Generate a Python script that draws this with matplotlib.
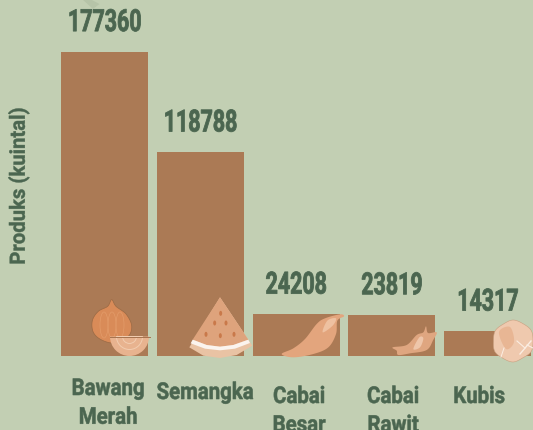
import matplotlib
matplotlib.use('Agg')
import matplotlib.pyplot as plt
import numpy as np
from matplotlib.patches import Ellipse, Polygon, Wedge
from matplotlib.patheffects import AbstractPathEffect
from matplotlib.transforms import Affine2D

plt.rcParams['font.family'] = ['Roboto', 'DejaVu Sans']

categories = ['Bawang\nMerah', 'Semangka', 'Cabai\nBesar', 'Cabai\nRawit', 'Kubis']
values = [177360, 118788, 24208, 23819, 14317]

BG = '#c2cfb3'
BAR = '#ab7a55'
TEXT = '#4b6650'

W, H = 533, 431


class Squeeze(AbstractPathEffect):
    # narrows a text line around its own centre, the original font is condensed
    def __init__(self, sx, stroke=0.5):
        super().__init__()
        self.sx = sx
        self.stroke = stroke

    def draw_path(self, renderer, gc, tpath, affine, rgbFace=None):
        ext = tpath.get_extents()
        cx = (ext.x0 + ext.x1) / 2
        squeeze = Affine2D().translate(-cx, 0).scale(self.sx, 1).translate(cx, 0)
        gc0 = renderer.new_gc()
        gc0.copy_properties(gc)
        gc0.set_linewidth(self.stroke)
        gc0.set_foreground(rgbFace)
        renderer.draw_path(gc0, tpath, squeeze + affine, rgbFace)
        gc0.restore()


def smooth(pts, n=12):
    # closed Catmull-Rom through the outline points
    p = np.array(pts, dtype=float)
    out = []
    for i in range(len(p)):
        p0, p1, p2, p3 = p[i - 1], p[i], p[(i + 1) % len(p)], p[(i + 2) % len(p)]
        for t in np.linspace(0, 1, n, endpoint=False):
            out.append(0.5 * (2 * p1 + (p2 - p0) * t + (2 * p0 - 5 * p1 + 4 * p2 - p3) * t ** 2
                              + (3 * p1 - p0 - 3 * p2 + p3) * t ** 3))
    return out


fig = plt.figure(figsize=(W / 100, H / 100), dpi=100, facecolor=BG)

# bars live in a full-figure axes, limits chosen so the baseline lands near y=356.5px
ax = fig.add_axes([0, 0, 1, 1])
per_px = 177360 / 304
base = 356.6
ax.set_xlim(-104.5 / 95.8, (W - 104.5) / 95.8)
ax.set_ylim(-(H - base) * per_px, base * per_px)
ax.axis('off')

x = np.arange(len(values))
ax.bar(x, values, width=0.908, color=BAR, linewidth=0)

for i, v in enumerate(values):
    ax.annotate(str(v), (i, v), xytext=(0, 20.5), textcoords='offset pixels',
                ha='center', va='baseline', fontsize=22, fontweight='bold', color=TEXT,
                path_effects=[Squeeze(0.70, 0.6)])

label_pos = [(108, 378), (205, 382), (299, 386), (393, 386), (479, 386)]
for (px, py), name in zip(label_pos, categories):
    fig.text(px / W, 1 - py / H, name, ha='center', va='top', fontsize=16.7,
             fontweight='bold', color=TEXT, linespacing=1.32,
             path_effects=[Squeeze(0.88, 0.4)])

fig.text(19 / W, 1 - 187 / H, 'Produks (kuintal)', rotation=90, ha='center', va='center',
         fontsize=15.2, fontweight='bold', color=TEXT, path_effects=[Squeeze(0.96, 0.3)])

# overlay in pixel coordinates for the vegetable pictures
ov = fig.add_axes([0, 0, 1, 1], facecolor='none')
ov.set_xlim(0, W)
ov.set_ylim(H, 0)
ov.axis('off')


def z1(pts):
    return [(60 + a / 3, 280 + b / 3) for a, b in pts]


def z2(pts):
    return [(250 + a / 3, 270 + b / 3) for a, b in pts]


# corner of the watermark at the top
ov.add_patch(Polygon([(82, 0), (90, 0), (99.5, 5), (93, 10)], color='#b6c4a8', lw=0))

# onion
onion = [(155, 62), (168, 82), (198, 105), (215, 140), (205, 172), (165, 192), (125, 183),
         (100, 160), (97, 125), (115, 97), (143, 82)]
ov.add_patch(Polygon(z1(smooth(onion)), fc='#d98b58', ec='#9a6a45', lw=0.5))
for dx in (-8, 0, 8):
    ov.add_patch(Ellipse((112 + dx, 326), 8, 26, fc='none', ec='#e39c6a', lw=0.5))
ov.add_patch(Wedge((129.5, 337.5), 19.5, 0, 180, fc='#e8b38f', lw=0))
ov.plot([110, 149.5], [337.5, 337.5], color='#a5734f', lw=0.7)
ov.add_patch(Wedge((129.5, 337.5), 13, 0, 180, fc='none', ec='#f2cdb0', lw=0.7))
ov.add_patch(Wedge((129.5, 337.5), 7, 0, 180, fc='none', ec='#f2cdb0', lw=0.7))

# watermelon
slice_pts = [(480, 55), (577, 200), (530, 228), (480, 237), (430, 230), (388, 205)]
ov.add_patch(Polygon(z1(slice_pts), fc='#e9c3a4', lw=0))
ov.add_patch(Polygon(z1([(480, 55), (565, 182), (520, 198), (480, 203), (440, 198), (398, 182)]), fc='#dea37c', lw=0))
ov.add_patch(Polygon(z1([(398, 182), (440, 198), (480, 203), (520, 198), (565, 182), (570, 192), (525, 209),
                         (480, 214), (435, 209), (392, 193)]), fc='#fbf4ee', lw=0))
for sx, sy in [(482, 103), (464, 132), (498, 132), (438, 166), (481, 170), (522, 166)]:
    ov.add_patch(Ellipse(z1([(sx, sy)])[0], 3, 5, color='#c9794a', lw=0))

# big chili
big = [(95, 255), (130, 238), (165, 210), (200, 165), (225, 148), (270, 136), (282, 142),
       (262, 155), (258, 195), (235, 235), (190, 255), (130, 265)]
ov.add_patch(Polygon(z2(smooth(big)), fc='#e3a57d', lw=0))
ov.add_patch(Polygon(z2(smooth([(218, 190), (232, 155), (258, 148), (248, 170)])), fc='#eec1a1', lw=0))

# small chili
small = [(428, 235), (470, 228), (500, 198), (520, 190), (528, 172), (534, 192), (560, 190),
         (550, 212), (530, 243), (480, 253), (445, 258), (440, 245)]
ov.add_patch(Polygon(z2(smooth(small)), fc='#dfa680', lw=0))
ov.add_patch(Polygon(z2(smooth([(490, 240), (508, 205), (520, 208), (510, 235)])), fc='#eec6aa', lw=0))

# cabbage
ang = np.radians(np.arange(0, 360, 30))
rad = [20, 21, 19.5, 21, 20, 21, 19.5, 20.5, 19.5, 21, 20, 21]
lobes = [(513 + r * np.cos(a), 342 + r * np.sin(a)) for r, a in zip(rad, ang)]
ov.add_patch(Polygon(smooth(lobes), fc='#efc9ae', ec='#c9a080', lw=0.4))
ov.add_patch(Polygon(smooth([(499, 333), (510, 328), (514, 343), (506, 350)]), fc='#e8b694', lw=0))
ov.plot([520, 531], [355, 342], color='#fbeee3', lw=1)
ov.plot([525, 517], [349, 342], color='#fbeee3', lw=0.8)
ov.plot([527, 533], [346, 349], color='#fbeee3', lw=0.8)
ov.plot([501, 504], [358, 349], color='#fbeee3', lw=0.7)

fig.savefig('out.png', dpi=100, facecolor=BG)
